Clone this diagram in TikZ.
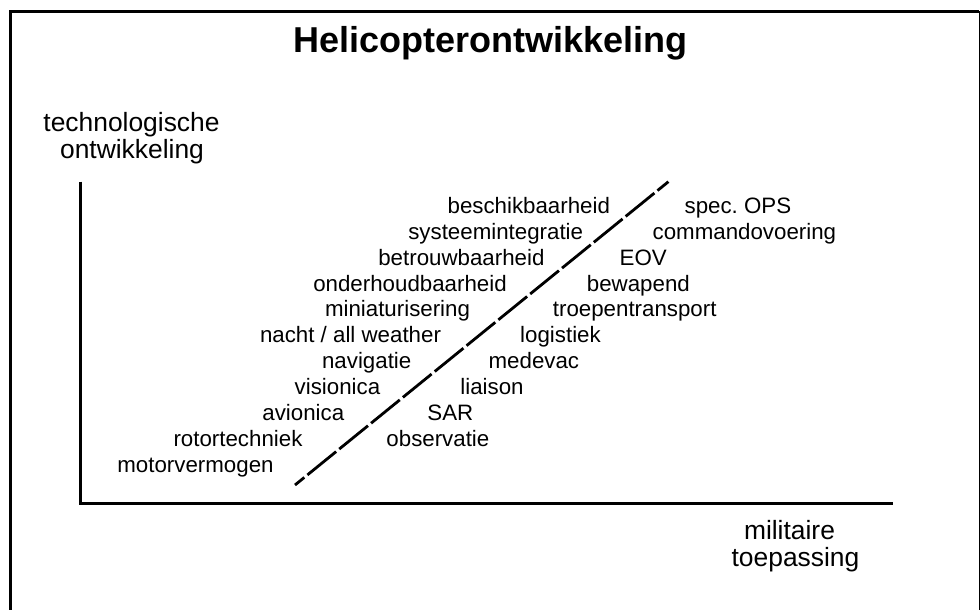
\documentclass[tikz,border=0pt]{standalone}
\usepackage{fontspec}
\setmainfont{Liberation Sans}
\frenchspacing

\begin{document}
\begin{tikzpicture}[x=0.5pt,y=-0.5pt]
        \tikzstyle{every node} = [inner sep=0pt, anchor=base]
        \tikzstyle{item} = [font=\fontsize{11.15}{13}\selectfont]
        \tikzstyle{axislabel} = [font=\fontsize{13.2}{14}\selectfont]
        \tikzstyle{axis} = [line width=1.5pt]
        \useasboundingbox (0,0) rectangle (980,610);
        % frame
        \draw[line width=1.5pt] (10,610) -- (10,11.5) -- (979,11.5);
        \draw[line width=0.5pt] (979,11.5) -- (979,610);
        \node[font=\bfseries\fontsize{18}{20}\selectfont] (title) at (490.6,52.5) {Helicopterontwikkeling};
        % axes
        \coordinate (top) at (80.5,181.7);
        \coordinate (origin) at (80.5,503);
        \coordinate (right) at (892.7,503);
        \draw[axis] (top) -- (origin) -- (right);
        \node[axislabel] (tech1) at (131.5,131.7) {technologische};
        \node[axislabel] (tech2) at (132,158.3) {ontwikkeling};
        \node[axislabel] (mil1) at (789.5,539.3) {militaire};
        \node[axislabel] (mil2) at (795.5,566.5) {toepassing};
        % technology side
        \foreach \n/\t/\cx/\cy in {beschik/beschikbaarheid/528.8/213.3,
                systeem/systeemintegratie/495.7/239.2,
                betrouw/betrouwbaarheid/461.4/265.1,
                onderhoud/onderhoudbaarheid/410/291,
                mini/miniaturisering/397.5/316.9,
                nacht/{nacht / all weather}/350.5/342.8,
                navi/navigatie/366.7/368.7,
                vision/visionica/337.5/394.6,
                avion/avionica/303.3/420.5,
                rotor/rotortechniek/238/446.4,
                motor/motorvermogen/195.5/472.3}
            \node[item] (\n) at (\cx,\cy) {\t};
        % military side
        \foreach \n/\t/\cx/\cy in {specops/spec. OPS/737.9/213.3,
                commando/commandovoering/744.4/239.2,
                eov/EOV/643.2/265.1,
                bewapend/bewapend/638.4/291,
                troepen/troepentransport/634.7/316.9,
                logistiek/logistiek/560.5/342.8,
                medevac/medevac/533.9/368.7,
                liaison/liaison/492/394.6,
                sar/SAR/450.3/420.5,
                observatie/observatie/437.9/446.4}
            \node[item] (\n) at (\cx,\cy) {\t};
        % dividing line
        \coordinate (low) at (295,485);
        \coordinate (high) at (668.4,181.7);
        \draw[line width=1.4pt, dash pattern=on 18.5pt off 2pt, dash phase=-8pt] (low) -- (high);
    \end{tikzpicture}
\end{document}
